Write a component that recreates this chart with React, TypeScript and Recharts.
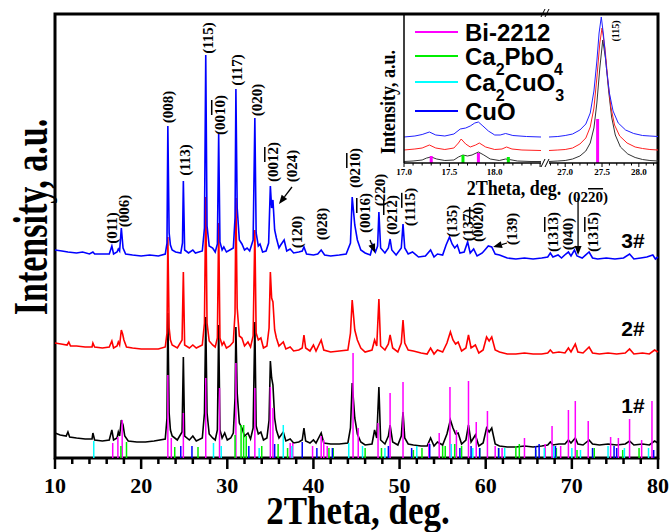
import React from "react";
import { LineChart, Line, XAxis, YAxis, ReferenceArea, ReferenceLine, ReferenceDot } from "recharts";

const SERIF = '"Liberation Serif", "Times New Roman", serif';
const SANS = '"Liberation Sans", Arial, sans-serif';

type Pt = [number, number];

// 1# (black), 2# (red), 3# (blue): 2Theta (deg) vs stacked intensity (a.u.)
const sample1: Pt[] = [
  [10, 25], [10.6, 23], [11.3, 22], [11.5, 26], [11.7, 21], [12.5, 20], [13.5, 19], [14.3, 19], [14.4, 25], [14.6, 18],
  [15.5, 17], [16.3, 18], [16.6, 28], [16.8, 18], [17.2, 20], [17.35, 26], [17.5, 22], [17.7, 38], [17.9, 33], [18.1, 22],
  [18.5, 17], [19.5, 16], [20.5, 16], [21.5, 17], [22.8, 19], [23.0, 40], [23.1, 145], [23.25, 45], [23.4, 28], [23.6, 22],
  [24.2, 18], [24.75, 26], [24.9, 101], [25.05, 22], [25.6, 18], [26.0, 22], [26.4, 17], [27.1, 20], [27.35, 45], [27.5, 141],
  [27.65, 45], [27.9, 24], [28.3, 20], [28.6, 18], [28.85, 28], [29.0, 133], [29.15, 28], [29.4, 20], [29.7, 25], [30.0, 18],
  [30.4, 20], [30.7, 25], [30.9, 60], [31.0, 131], [31.15, 65], [31.4, 35], [31.7, 30], [32.0, 22], [32.4, 25], [32.7, 19],
  [33.0, 30], [33.2, 136], [33.35, 32], [33.6, 24], [33.9, 26], [34.2, 18], [34.6, 20], [34.85, 38], [35.0, 97], [35.15, 80],
  [35.3, 73], [35.5, 40], [35.7, 28], [36.0, 20], [36.5, 26], [36.8, 17], [37.3, 19], [37.7, 15], [38.3, 16], [38.7, 18],
  [38.9, 30], [39.1, 17], [39.6, 15], [40.0, 18], [40.3, 15], [40.9, 25], [41.2, 15], [42, 14], [43, 14], [44.0, 15],
  [44.3, 30], [44.5, 75], [44.8, 40], [45.1, 24], [45.5, 16], [46, 13], [46.8, 14], [47.1, 28], [47.35, 20], [47.6, 71],
  [47.8, 18], [48.3, 14], [48.7, 22], [48.9, 33], [49.2, 16], [49.8, 13], [50.2, 22], [50.4, 46], [50.6, 20], [51.0, 14],
  [51.6, 13], [52.5, 12], [53.2, 12], [53.6, 20], [54.0, 12], [54.4, 16], [55.0, 13], [55.5, 24], [55.9, 38], [56.2, 30],
  [56.5, 24], [56.8, 25], [57.2, 14], [57.7, 18], [58.0, 33], [58.3, 16], [58.8, 23], [59.2, 12], [59.7, 15], [60.1, 30],
  [60.4, 26], [60.7, 30], [61.1, 14], [61.6, 12], [62.5, 11], [63.5, 11], [64.5, 12], [65.5, 11], [66.5, 12], [67.2, 13],
  [67.5, 16], [67.8, 13], [68.5, 14], [69.2, 14], [69.6, 18], [69.9, 15], [70.4, 20], [70.7, 14], [71.3, 13], [72.0, 18],
  [72.4, 14], [73.2, 13], [74.2, 14], [75.2, 13], [76.2, 14], [76.7, 17], [77.2, 13], [78.2, 14], [79, 13], [79.6, 17], [80, 15],
];

const sample2: Pt[] = [
  [10, 115], [10.7, 114], [11.4, 113], [11.6, 116], [11.8, 112], [12.5, 112], [13.5, 111], [14.3, 111], [14.4, 115], [14.6, 111],
  [15.5, 110], [16.3, 111], [16.6, 117], [16.8, 110], [17.2, 112], [17.35, 116], [17.5, 113], [17.7, 128], [17.85, 124], [18.0, 118],
  [18.3, 111], [19, 110], [20, 109], [21, 109], [22, 109], [22.8, 111], [23.0, 125], [23.1, 221], [23.25, 130], [23.4, 118],
  [23.6, 113], [24.2, 110], [24.75, 118], [24.9, 186], [25.05, 113], [25.6, 110], [26.0, 113], [26.4, 110], [27.1, 113], [27.35, 135],
  [27.5, 261], [27.65, 135], [27.9, 117], [28.3, 113], [28.6, 111], [28.85, 120], [29.0, 235], [29.15, 120], [29.4, 113], [29.6, 116],
  [29.9, 110], [30.3, 112], [30.7, 116], [30.9, 145], [31.0, 260], [31.15, 150], [31.4, 122], [31.7, 120], [32.0, 112], [32.4, 116],
  [32.7, 111], [33.0, 122], [33.2, 228], [33.35, 125], [33.6, 118], [33.9, 120], [34.2, 110], [34.6, 112], [34.85, 130], [35.0, 186],
  [35.15, 160], [35.3, 156], [35.5, 128], [35.7, 120], [36.0, 112], [36.5, 116], [36.8, 109], [37.3, 111], [37.7, 107], [38.3, 108],
  [38.7, 110], [38.9, 123], [39.1, 110], [39.6, 107], [40.0, 113], [40.3, 107], [40.9, 118], [41.2, 108], [42, 106], [43, 107],
  [44.0, 108], [44.3, 125], [44.5, 158], [44.8, 128], [45.1, 118], [45.5, 110], [46, 106], [46.8, 108], [47.1, 118], [47.35, 112],
  [47.6, 159], [47.8, 112], [48.3, 108], [48.7, 114], [48.9, 123], [49.2, 110], [49.8, 106], [50.2, 115], [50.4, 138], [50.6, 115],
  [51.0, 108], [51.6, 107], [52.5, 105], [53.2, 104], [53.6, 110], [54.0, 104], [54.4, 108], [55.0, 106], [55.5, 115], [55.9, 126],
  [56.2, 118], [56.5, 114], [56.8, 116], [57.2, 107], [57.7, 110], [58.0, 123], [58.3, 110], [58.8, 113], [59.2, 105], [59.7, 108],
  [60.1, 121], [60.4, 117], [60.7, 121], [61.1, 108], [61.6, 106], [62.5, 104], [63.5, 104], [64.5, 105], [65.5, 104], [66.5, 104],
  [67.2, 105], [67.5, 108], [67.8, 105], [68.5, 106], [69.2, 105], [69.6, 110], [69.9, 106], [70.4, 114], [70.7, 106], [71.3, 105],
  [72.0, 111], [72.4, 105], [73.2, 104], [74.2, 105], [75.2, 104], [76.2, 105], [76.7, 109], [77.2, 104], [78.2, 105], [79, 104],
  [79.6, 108], [80, 106],
];

const sample3: Pt[] = [
  [10, 208], [10.8, 207], [11.5, 206], [12.5, 205], [13.2, 206], [14, 204], [14.4, 206], [14.6, 204], [15.5, 204], [16.3, 204],
  [16.6, 212], [16.8, 204], [17.2, 206], [17.35, 209], [17.5, 207], [17.7, 230], [17.9, 210], [18.2, 204], [19, 203], [20, 202],
  [21, 203], [22, 202], [22.8, 204], [23.0, 215], [23.1, 332], [23.25, 225], [23.4, 213], [23.6, 208], [24, 206], [24.6, 205],
  [24.8, 215], [24.9, 277], [25.05, 208], [25.5, 205], [26, 208], [26.3, 205], [27.1, 207], [27.35, 230], [27.5, 403], [27.65, 232],
  [27.9, 212], [28.3, 210], [28.6, 206], [28.85, 214], [29.0, 324], [29.15, 216], [29.4, 208], [29.6, 211], [29.9, 206], [30.3, 208],
  [30.7, 210], [30.9, 240], [31.0, 369], [31.15, 250], [31.4, 218], [31.7, 214], [32.0, 208], [32.3, 210], [32.6, 207], [33.0, 218],
  [33.2, 340], [33.35, 225], [33.6, 212], [33.8, 214], [34.1, 206], [34.5, 207], [34.8, 215], [35.0, 272], [35.15, 250], [35.3, 258],
  [35.5, 228], [35.7, 220], [36.0, 210], [36.2, 213], [36.6, 218], [36.9, 207], [37.3, 209], [37.7, 205], [38.3, 206], [38.7, 207],
  [38.9, 211], [39.2, 204], [40, 203], [40.5, 204], [40.9, 208], [41.3, 203], [42, 202], [43, 203], [43.8, 204], [44.3, 215],
  [44.5, 261], [44.8, 233], [45.1, 218], [45.5, 208], [46, 205], [46.6, 203], [46.9, 213], [47.2, 206], [47.45, 212], [47.6, 246],
  [47.8, 210], [48.3, 205], [48.7, 210], [48.9, 219], [49.1, 208], [49.6, 203], [50.2, 210], [50.4, 234], [50.6, 210], [51.0, 204],
  [51.5, 206], [52.2, 201], [53.0, 202], [53.6, 208], [54.0, 201], [54.4, 204], [55.0, 203], [55.4, 213], [55.8, 221], [56.1, 214],
  [56.4, 210], [56.7, 213], [57.0, 205], [57.5, 206], [57.9, 216], [58.2, 205], [58.6, 209], [59.0, 202], [59.6, 205], [60.0, 209],
  [60.3, 212], [60.7, 211], [61.1, 204], [61.6, 203], [62.5, 200], [63.5, 199], [64.5, 200], [65.5, 199], [66.5, 200], [67.2, 201],
  [67.5, 205], [67.8, 201], [68.4, 203], [68.8, 200], [69.3, 204], [69.6, 206], [69.9, 202], [70.3, 208], [70.6, 202], [71.2, 200],
  [72.0, 206], [72.4, 200], [73, 199], [74, 200], [75, 199], [76, 200], [76.7, 204], [77.2, 199], [78, 200], [78.7, 201],
  [79.4, 203], [79.7, 199], [80, 201],
];

// reference patterns: [2Theta, stick height]
const bi2212Sticks: Pt[] = [
  [16.7, 15], [17.3, 21], [17.8, 38], [23.1, 83], [23.5, 20], [24.9, 45], [27.5, 80], [29.1, 70], [31.0, 95], [33.2, 70],
  [35.0, 71], [35.3, 50], [37.3, 15], [37.6, 15], [39.9, 12], [40.9, 22], [41.2, 18], [41.6, 12], [44.6, 105], [45.2, 30],
  [47.5, 35], [48.9, 65], [50.4, 76], [53.4, 15], [54.6, 25], [55.85, 71], [56.6, 28], [58.0, 77], [58.9, 36], [60.2, 47],
  [61.1, 12], [61.9, 10], [64.5, 20], [66.9, 14], [67.7, 32], [68.7, 12], [69.6, 48], [70.4, 57], [71.9, 37], [74.5, 21],
  [75.4, 20], [76.7, 39], [78.1, 18], [79.3, 57],
];
const ca2pbo4Sticks: Pt[] = [
  [17.65, 12], [18.3, 16], [23.9, 11], [26.6, 11], [30.9, 23], [31.6, 33], [31.9, 33], [32.2, 22], [34.0, 12], [35.9, 14],
  [37.0, 10], [41.8, 10], [42.3, 10], [46.0, 10], [47.9, 10], [51.6, 8], [52.6, 10], [55.0, 12], [55.3, 12], [56.4, 14],
  [57.2, 12], [59.3, 10], [61.5, 10], [63.5, 12], [63.9, 14], [65.8, 8], [68.2, 10], [70.6, 8], [72.6, 10], [75.9, 8], [77.8, 10],
];
const ca2cuo3Sticks: Pt[] = [
  [14.5, 17], [28.4, 15], [29.3, 12], [33.7, 10], [36.5, 33], [37.5, 12], [44.1, 15], [45.7, 12], [48.3, 10], [52.0, 12],
  [56.0, 14], [58.5, 10], [62.2, 10], [66.8, 10], [67.9, 12], [70.0, 10], [71.0, 8], [74.2, 12], [76.1, 10], [78.9, 10],
];
const cuoSticks: Pt[] = [
  [24.6, 12], [25.9, 12], [32.5, 12], [35.5, 14], [38.7, 16], [40.4, 10], [42.2, 10], [48.7, 12], [51.4, 10], [53.5, 14],
  [57.0, 10], [58.3, 12], [59.3, 10], [61.5, 10], [65.8, 12], [66.2, 14], [68.1, 12], [72.4, 10], [74.9, 12], [75.2, 10], [79.5, 8],
];

const phaseNames = ["Bi-2212", "Ca2PbO4", "Ca2CuO3", "CuO"];
const phaseColors = ["#ff00ff", "#00ee00", "#00ffff", "#0000ff"];

const mainTicks = [10, 12, 14, 16, 18, 20, 22, 24, 26, 28, 30, 32, 34, 36, 38, 40, 42, 44, 46, 48, 50, 52, 54, 56, 58, 60, 62, 64, 66, 68, 70, 72, 74, 76, 78, 80];

// hkl labels, "~" toggles overline
const peakLabels = [
  { t: "(011)", x: 16.62, y: 230 }, { t: "(006)", x: 18.01, y: 247 }, { t: "(008)", x: 23.12, y: 351 },
  { t: "(113)", x: 25.09, y: 298 }, { t: "(115)", x: 27.76, y: 420 }, { t: "(00~10~)", x: 29.15, y: 343 },
  { t: "(117)", x: 31.13, y: 388 }, { t: "(020)", x: 33.45, y: 358 }, { t: "(00~12~)", x: 35.31, y: 296 },
  { t: "(024)", x: 37.51, y: 292 }, { t: "(120)", x: 38.09, y: 226 }, { t: "(028)", x: 41.0, y: 234 },
  { t: "(02~10~)", x: 44.83, y: 290 }, { t: "(00~16~)", x: 45.99, y: 245 }, { t: "(220)", x: 47.73, y: 268 },
  { t: "(02~12~)", x: 49.12, y: 243 }, { t: "(11~15~)", x: 51.21, y: 251 }, { t: "(135)", x: 56.09, y: 237 },
  { t: "(137)", x: 57.94, y: 233 }, { t: "(00~20~)", x: 59.1, y: 236 }, { t: "(139)", x: 63.05, y: 229 },
  { t: "(13~13~)", x: 67.81, y: 226 }, { t: "(040)", x: 69.55, y: 224 }, { t: "(13~15~)", x: 72.46, y: 226 },
];
const flatLabels = [{ t: "(02~20~)", x: 71.88, y: 261 }];
const arrows = [
  { from: [37.51, 271], to: [36.0, 254] },
  { from: [46.57, 218], to: [47.15, 205] },
  { from: [62.47, 215], to: [60.85, 211] },
  { from: [70.72, 260], to: [70.72, 203] },
];

// inset: zoom on the (006) region and on the (115) peak
const insetLeft1: Pt[] = [[17.0, 1.5], [17.1, 2], [17.2, 3], [17.25, 5], [17.3, 6], [17.36, 4], [17.45, 2.5], [17.55, 3], [17.6, 6], [17.65, 8], [17.7, 7], [17.75, 8], [17.82, 11], [17.88, 8], [17.95, 4], [18.05, 2.5], [18.12, 4], [18.16, 3.5], [18.25, 2], [18.4, 1.5], [18.51, 1.5]];
const insetLeft2: Pt[] = [[17.0, 13], [17.12, 14], [17.2, 15], [17.28, 18], [17.35, 15], [17.45, 13.5], [17.55, 15], [17.6, 20], [17.63, 24], [17.68, 19], [17.73, 16], [17.79, 18], [17.83, 20], [17.9, 16], [18.0, 13.5], [18.08, 14], [18.13, 16], [18.19, 14], [18.3, 13], [18.51, 12.5]];
const insetLeft3: Pt[] = [[17.0, 26], [17.12, 27], [17.2, 28.5], [17.28, 31], [17.35, 28], [17.45, 27], [17.55, 29], [17.62, 34], [17.68, 35], [17.73, 37], [17.78, 40], [17.82, 41], [17.87, 37], [17.93, 32], [18.0, 28], [18.06, 28], [18.12, 29.5], [18.2, 27.5], [18.35, 26.5], [18.51, 26]];
const insetRight1: Pt[] = [[26.78, 1.5], [26.9, 2], [27.0, 2.5], [27.1, 4], [27.2, 7], [27.28, 12], [27.34, 20], [27.39, 35], [27.43, 60], [27.47, 95], [27.51, 123], [27.55, 103], [27.59, 72], [27.63, 46], [27.68, 28], [27.75, 16], [27.85, 9], [27.95, 5.5], [28.05, 3.5], [28.15, 2.5], [28.26, 2]];
const insetRight2: Pt[] = [[26.78, 12.5], [26.9, 13], [27.0, 13.5], [27.1, 15], [27.2, 19], [27.28, 25], [27.34, 36], [27.39, 55], [27.43, 85], [27.47, 120], [27.5, 135], [27.54, 115], [27.58, 82], [27.62, 56], [27.67, 38], [27.74, 27], [27.84, 20], [27.95, 16], [28.05, 14.5], [28.15, 13.5], [28.26, 13]];
const insetRight3: Pt[] = [[26.78, 26], [26.9, 26.5], [27.0, 27.5], [27.1, 29], [27.2, 33], [27.28, 39], [27.34, 50], [27.39, 72], [27.43, 102], [27.46, 130], [27.49, 146], [27.52, 128], [27.56, 95], [27.6, 70], [27.65, 52], [27.72, 40], [27.82, 33], [27.93, 29.5], [28.05, 27.5], [28.15, 27], [28.26, 26.5]];
const insetLeftBi: Pt[] = [[17.3, 7], [17.82, 10]];
const insetLeftPb: Pt[] = [[17.65, 8], [18.15, 6]];
const insetRightBi: Pt[] = [[27.44, 44]];
const insetRightPb: Pt[] = [];
const insetLeftTicks = [17.0, 17.1, 17.2, 17.3, 17.4, 17.5, 17.6, 17.7, 17.8, 17.9, 18.0, 18.1, 18.2, 18.3, 18.4, 18.5];
const insetRightTicks = [26.8, 26.9, 27.0, 27.1, 27.2, 27.3, 27.4, 27.5, 27.6, 27.7, 27.8, 27.9, 28.0, 28.1, 28.2];
const insetTickLabels = [17.0, 17.5, 18.0, 27.0, 27.5, 28.0];

const toPts = (a: Pt[]) => a.map(([x, y]) => ({ x, y }));
const toSticks = (a: Pt[]) => a.flatMap(([x, h]) => [{ x, y: 0 }, { x, y: h }, { x, y: null }]);

function Hkl({ text }: { text: string }) {
  return (
    <>
      {text.split("~").map((p, i) => (
        <tspan key={i} style={i % 2 ? { textDecoration: "overline" } : undefined}>{p}</tspan>
      ))}
    </>
  );
}

function MainTick(props: any) {
  const { x, y, payload } = props;
  const v = payload.value;
  const major = v % 10 === 0;
  return (
    <g>
      <line x1={x} x2={x} y1={y} y2={y + (major ? 11 : 6)} stroke="#000" strokeWidth={2.5} />
      {major && (
        <text x={x} y={y + 35} textAnchor="middle" fontFamily={SERIF} fontWeight="bold" fontSize={22} fill="#000">
          {v}
        </text>
      )}
    </g>
  );
}

function InsetTick(props: any) {
  const { x, y, payload } = props;
  const v = payload.value;
  const labelled = insetTickLabels.some((l) => Math.abs(l - v) < 1e-6);
  const major = Math.abs(v * 2 - Math.round(v * 2)) < 1e-6;
  return (
    <g>
      <line x1={x} x2={x} y1={y} y2={y + (major ? 4 : 2.5)} stroke="#000" strokeWidth={1} />
      {labelled && (
        <text x={x} y={y + 12} textAnchor="middle" fontFamily={SERIF} fontWeight="bold" fontSize={9} fill="#000">
          {v.toFixed(1)}
        </text>
      )}
    </g>
  );
}

const ArrowShape = (props: any) => {
  const { x1, y1, x2, y2 } = props;
  const a = Math.atan2(y2 - y1, x2 - x1);
  const L = 9, W = 3.5;
  const bx = x2 - L * Math.cos(a), by = y2 - L * Math.sin(a);
  const px = -Math.sin(a) * W, py = Math.cos(a) * W;
  return (
    <g>
      <line x1={x1} y1={y1} x2={bx} y2={by} stroke="#000" strokeWidth={1.3} />
      <polygon points={`${x2},${y2} ${bx + px},${by + py} ${bx - px},${by - py}`} fill="#000" />
    </g>
  );
};

const rotLabel = (t: string, size: number) => (p: any) => (
  <text
    transform={`translate(${p.cx},${p.cy}) rotate(-90)`}
    textAnchor="middle"
    dominantBaseline="central"
    fontFamily={SERIF}
    fontWeight="bold"
    fontSize={size}
    fill="#000"
  >
    <Hkl text={t} />
  </text>
);

const flatLabel = (t: string) => (p: any) => (
  <text x={p.cx} y={p.cy} textAnchor="middle" dominantBaseline="central" fontFamily={SERIF} fontWeight="bold" fontSize={15} fill="#000">
    <Hkl text={t} />
  </text>
);

function Formula({ name }: { name: string }) {
  if (name.includes("-")) return <>{name}</>;
  return (
    <>
      {name.split(/(\d+)/).map((p, i) =>
        i % 2 ? (
          <tspan key={i} fontSize={16} dy={10}>{p}</tspan>
        ) : (
          <tspan key={i} dy={i > 0 ? -10 : 0}>{p}</tspan>
        )
      )}
    </>
  );
}

function InsetPanel({ left, width, domain, ticks, s1, s2, s3, bi, pb, showLeftAxis, label }: any) {
  const pad = 12;
  return (
    <div style={{ position: "absolute", left: left - pad, top: 14 }}>
      <LineChart width={width + pad * 2} height={163} margin={{ top: 0, right: pad, bottom: 0, left: pad }}>
        <XAxis
          type="number"
          dataKey="x"
          domain={domain}
          allowDataOverflow
          ticks={ticks}
          interval={0}
          height={14}
          tick={<InsetTick />}
          tickLine={false}
          tickSize={0}
          tickMargin={0}
          axisLine={{ stroke: "#000", strokeWidth: 1.5 }}
        />
        <YAxis hide type="number" domain={[0, 149]} allowDataOverflow />
        <Line data={toPts(s1)} dataKey="y" stroke="#333" strokeWidth={1} dot={false} activeDot={false} isAnimationActive={false} />
        <Line data={toPts(s2)} dataKey="y" stroke="#ff2020" strokeWidth={1} dot={false} activeDot={false} isAnimationActive={false} />
        <Line data={toPts(s3)} dataKey="y" stroke="#2020ff" strokeWidth={1} dot={false} activeDot={false} isAnimationActive={false} />
        <Line data={toSticks(bi)} dataKey="y" stroke={phaseColors[0]} strokeWidth={3} dot={false} activeDot={false} isAnimationActive={false} />
        <Line data={toSticks(pb)} dataKey="y" stroke={phaseColors[1]} strokeWidth={3} dot={false} activeDot={false} isAnimationActive={false} />
        {showLeftAxis && <ReferenceLine x={domain[0]} stroke="#000" strokeWidth={1.5} />}
        {label && <ReferenceDot x={label.x} y={label.y} r={0} shape={rotLabel(label.t, 10)} />}
      </LineChart>
    </div>
  );
}

export default function App() {
  const legendY = [32, 56, 82, 111];
  return (
    <div style={{ position: "absolute", left: 0, top: 0, width: 672, height: 532, background: "#fff", overflow: "hidden" }}>
      <LineChart width={672} height={532} margin={{ top: 14, right: 14, bottom: 0, left: 55 }}>
        <XAxis
          type="number"
          dataKey="x"
          domain={[10, 80]}
          ticks={mainTicks}
          interval={0}
          height={74}
          tick={<MainTick />}
          tickLine={false}
          tickSize={0}
          tickMargin={0}
          axisLine={false}
        />
        <YAxis hide type="number" domain={[0, 444]} />
        <Line data={toPts(sample1)} dataKey="y" stroke="#000" strokeWidth={1.6} dot={false} activeDot={false} isAnimationActive={false} />
        <Line data={toSticks(bi2212Sticks)} dataKey="y" stroke={phaseColors[0]} strokeWidth={1.5} dot={false} activeDot={false} isAnimationActive={false} />
        <Line data={toSticks(ca2pbo4Sticks)} dataKey="y" stroke={phaseColors[1]} strokeWidth={1.5} dot={false} activeDot={false} isAnimationActive={false} />
        <Line data={toSticks(ca2cuo3Sticks)} dataKey="y" stroke={phaseColors[2]} strokeWidth={1.5} dot={false} activeDot={false} isAnimationActive={false} />
        <Line data={toSticks(cuoSticks)} dataKey="y" stroke={phaseColors[3]} strokeWidth={1.5} dot={false} activeDot={false} isAnimationActive={false} />
        <Line data={toPts(sample2)} dataKey="y" stroke="#ff0000" strokeWidth={1.6} dot={false} activeDot={false} isAnimationActive={false} />
        <Line data={toPts(sample3)} dataKey="y" stroke="#0000ff" strokeWidth={1.6} dot={false} activeDot={false} isAnimationActive={false} />
        {arrows.map((a, i) => (
          <ReferenceLine
            key={`ar${i}`}
            segment={[{ x: a.from[0], y: a.from[1] }, { x: a.to[0], y: a.to[1] }]}
            shape={ArrowShape}
          />
        ))}
        {peakLabels.map((l, i) => (
          <ReferenceDot key={`pl${i}`} x={l.x} y={l.y} r={0} shape={rotLabel(l.t, 15)} />
        ))}
        {flatLabels.map((l, i) => (
          <ReferenceDot key={`fl${i}`} x={l.x} y={l.y} r={0} shape={flatLabel(l.t)} />
        ))}
        <ReferenceArea x1={10} x2={80} y1={0} y2={444} fill="none" stroke="#000" strokeWidth={3} />
      </LineChart>

      <InsetPanel
        left={404}
        width={137}
        domain={[17.0, 18.51]}
        ticks={insetLeftTicks}
        s1={insetLeft1}
        s2={insetLeft2}
        s3={insetLeft3}
        bi={insetLeftBi}
        pb={insetLeftPb}
        showLeftAxis
      />
      <InsetPanel
        left={549}
        width={109}
        domain={[26.78, 28.26]}
        ticks={insetRightTicks}
        s1={insetRight1}
        s2={insetRight2}
        s3={insetRight3}
        bi={insetRightBi}
        pb={insetRightPb}
        label={{ t: "(115)", x: 27.68, y: 132 }}
      />

      <svg width={672} height={532} style={{ position: "absolute", left: 0, top: 0, pointerEvents: "none" }}>
        <text transform="translate(47,217) rotate(-90) scale(1,1.4)" textAnchor="middle" fontFamily={SERIF} fontWeight="bold" fontSize={34} fill="#000">
          Intensity, a.u.
        </text>
        <text transform="translate(358,524) scale(1,1.12)" textAnchor="middle" fontFamily={SERIF} fontWeight="bold" fontSize={35} fill="#000">
          2Theta, deg.
        </text>
        <text transform="translate(395,102) rotate(-90) scale(1,1.15)" textAnchor="middle" fontFamily={SERIF} fontWeight="bold" fontSize={18} fill="#000">
          Intensity, a.u.
        </text>
        <text transform="translate(514,195) scale(1,1.2)" textAnchor="middle" fontFamily={SERIF} fontWeight="bold" fontSize={18} fill="#000">
          2Theta, deg.
        </text>
        {phaseNames.map((n, i) => (
          <g key={n}>
            <line x1={415} x2={458} y1={legendY[i]} y2={legendY[i]} stroke={phaseColors[i]} strokeWidth={2} />
            <text x={465} y={legendY[i] + 8.6} fontFamily={SANS} fontWeight="bold" fontSize={24} fill="#000">
              <Formula name={n} />
            </text>
          </g>
        ))}
        {[["3#", 247.5], ["2#", 335.5], ["1#", 412.5]].map(([t, y]) => (
          <text key={t as string} x={633} y={y as number} textAnchor="middle" fontFamily={SANS} fontWeight="bold" fontSize={21} fill="#000">
            {t}
          </text>
        ))}
        <g stroke="#000" strokeWidth={1}>
          <line x1={541} y1={167} x2={545} y2={159} />
          <line x1={545} y1={167} x2={549} y2={159} />
          <line x1={541} y1={17} x2={545} y2={9} />
          <line x1={545} y1={17} x2={549} y2={9} />
        </g>
      </svg>
    </div>
  );
}
